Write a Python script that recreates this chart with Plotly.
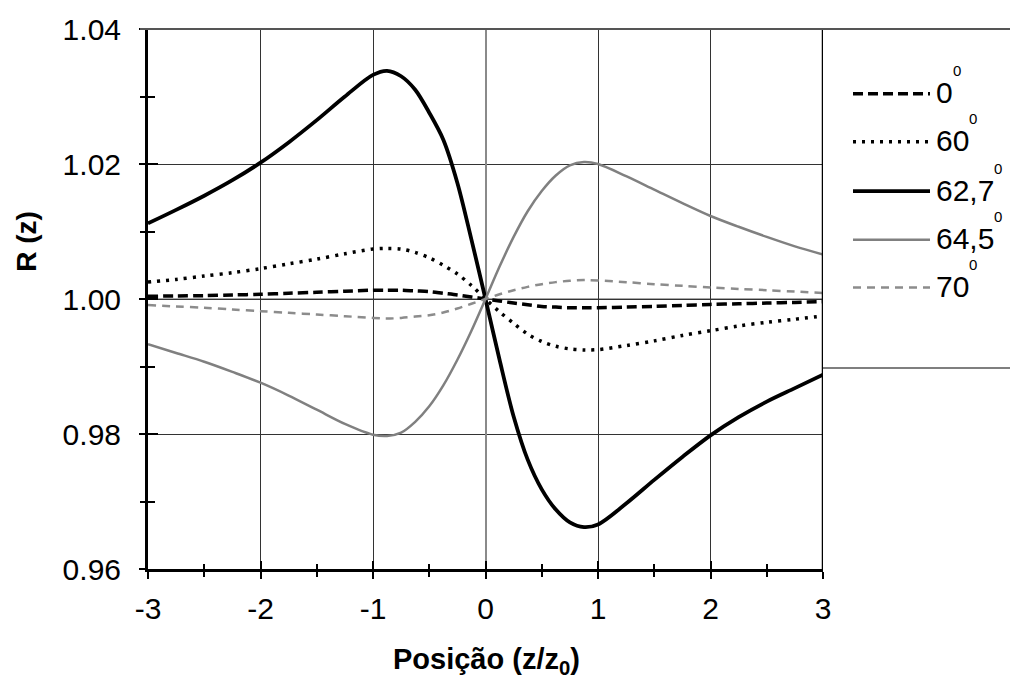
import plotly.graph_objects as go

# ---- data ----
z = [-3, -2.75, -2.5, -2.25, -2, -1.75, -1.5, -1.25, -1,
     -0.875, -0.75, -0.625, -0.5, -0.375, -0.25, -0.125, 0,
     0.125, 0.25, 0.375, 0.5, 0.625, 0.75, 0.875,
     1, 1.25, 1.5, 1.75, 2, 2.25, 2.5, 2.75, 3]

r_0 = [1.0004, 1.00045, 1.0005, 1.0006, 1.0007, 1.00085, 1.0010, 1.00115, 1.0013,
       1.0013, 1.0013, 1.0012, 1.0011, 1.00085, 1.0006, 1.0003, 1.0,
       0.9997, 0.9994, 0.99915, 0.9989, 0.9988, 0.9987, 0.9987,
       0.9987, 0.9988, 0.9989, 0.99905, 0.9992, 0.9993, 0.9994, 0.9995, 0.9996]
r_60 = [1.0025, 1.0029, 1.0034, 1.0039, 1.0045, 1.0052, 1.0059, 1.0067, 1.0074,
        1.0075, 1.0074, 1.0069, 1.0061, 1.0050, 1.0037, 1.0020, 1.0,
        0.9981, 0.9964, 0.9948, 0.9937, 0.9930, 0.9926, 0.99245,
        0.9925, 0.9931, 0.9938, 0.9946, 0.9953, 0.9960, 0.99655, 0.9970, 0.9975]
r_627 = [1.0112, 1.0132, 1.0153, 1.0176, 1.0202, 1.0232, 1.0265, 1.0300, 1.0332,
         1.0338, 1.0330, 1.0310, 1.0276, 1.0236, 1.0172, 1.0088, 1.0,
         0.9910, 0.9826, 0.9762, 0.9718, 0.9688, 0.9669, 0.9662,
         0.9666, 0.9697, 0.9732, 0.9766, 0.9798, 0.9825, 0.9848, 0.9868, 0.9888]
r_645 = [0.9933, 0.9920, 0.9907, 0.9892, 0.9876, 0.9857, 0.9836, 0.9815, 0.9799,
         0.9797, 0.9802, 0.9818, 0.9841, 0.9872, 0.9910, 0.9953, 1.0,
         1.0048, 1.0092, 1.0130, 1.0160, 1.0183, 1.0198, 1.0203,
         1.0200, 1.0182, 1.0162, 1.0142, 1.0123, 1.0107, 1.0092, 1.0078, 1.0066]
r_70 = [0.9991, 0.9989, 0.9987, 0.99845, 0.9982, 0.99795, 0.9977, 0.99745, 0.9972,
        0.9971, 0.9972, 0.9974, 0.9976, 0.9980, 0.9986, 0.9993, 1.0,
        1.0007, 1.0013, 1.0018, 1.0022, 1.0025, 1.0027, 1.0028,
        1.00275, 1.0025, 1.0022, 1.00195, 1.0017, 1.0015, 1.0013, 1.0011, 1.0009]

series_names = ["0", "60", "62,7", "64,5", "70"]
series_values = [r_0, r_60, r_627, r_645, r_70]

x_ticks = [-3, -2, -1, 0, 1, 2, 3]
x_tick_text = ["-3", "-2", "-1", "0", "1", "2", "3"]
y_ticks = [0.96, 0.98, 1.00, 1.02, 1.04]
y_tick_text = ["0.96", "0.98", "1.00", "1.02", "1.04"]

# ---- styles ----
styles = [
    dict(color="#000000", width=3.5, dash="10px,5px"),
    dict(color="#000000", width=3.5, dash="3px,6px"),
    dict(color="#000000", width=3.8, dash="solid"),
    dict(color="#808080", width=2.5, dash="solid"),
    dict(color="#8c8c8c", width=2.5, dash="8px,6px"),
]
sup_x = [957, 973, 998, 998, 973]   # legend degree-sign positions (px)

W, H = 1010, 684
ML, MR, MT, MB = 148, 187, 26, 115
PW, PH = W - ML - MR, H - MT - MB


def px_x(p):
    return (p - ML) / PW


def px_y(p):
    return (H - MB - p) / PH


FONT = "Liberation Sans, Arial, sans-serif"

fig = go.Figure()
for name, vals, st in zip(series_names, series_values, styles):
    fig.add_trace(go.Scatter(
        x=z, y=vals, mode="lines", name=name,
        line=dict(color=st["color"], width=st["width"], dash=st["dash"],
                  shape="spline", smoothing=0.9),
        showlegend=False,
    ))
# invisible trace to hold the overlay axes (inner half of crossing ticks)
fig.add_trace(go.Scatter(x=[0], y=[1.0], xaxis="x2", yaxis="y2", mode="lines",
                         showlegend=False, hoverinfo="skip", opacity=0))

tick_font = dict(family=FONT, size=30, color="#000")

fig.update_layout(
    width=W, height=H,
    margin=dict(l=ML, r=MR, t=MT, b=MB),
    paper_bgcolor="white", plot_bgcolor="white",
    xaxis=dict(
        range=[-3, 3], tickvals=x_ticks, ticktext=x_tick_text, ticks="outside", ticklen=7,
        tickwidth=1.5, tickcolor="#000",
        showline=True, linecolor="#000", linewidth=3,
        showgrid=True, gridcolor="#333", gridwidth=1,
        zeroline=True, zerolinecolor="#8a8a8a", zerolinewidth=1.5,
        tickfont=tick_font, ticklabelstandoff=4,
        minor=dict(dtick=0.5, tick0=-3, ticks="outside", ticklen=5,
                   tickwidth=1.5, tickcolor="#000", showgrid=False),
    ),
    yaxis=dict(
        range=[0.96, 1.04], tickvals=y_ticks, ticktext=y_tick_text,
        ticks="outside", ticklen=6, tickwidth=1.5, tickcolor="#000",
        showline=True, linecolor="#000", linewidth=3,
        showgrid=True, gridcolor="#333", gridwidth=1,
        zeroline=False,
        tickfont=tick_font, ticklabelstandoff=12,
        minor=dict(dtick=0.01, tick0=0.96, ticks="outside", ticklen=5,
                   tickwidth=1.5, tickcolor="#000", showgrid=False),
    ),
    xaxis2=dict(
        range=[-3, 3], overlaying="x", anchor="y2", side="bottom",
        tickvals=x_ticks, ticks="inside", ticklen=8, tickwidth=1.5,
        tickcolor="#000", showticklabels=False, showgrid=False,
        zeroline=False, showline=False,
        minor=dict(dtick=0.5, tick0=-3, ticks="inside", ticklen=5,
                   tickwidth=1.5, tickcolor="#000", showgrid=False),
    ),
    yaxis2=dict(
        range=[0.96, 1.04], overlaying="y", anchor="x2", side="left",
        tickvals=y_ticks, ticks="inside", ticklen=10, tickwidth=1.5,
        tickcolor="#000", showticklabels=False, showgrid=False,
        zeroline=False, showline=False,
        minor=dict(dtick=0.01, tick0=0.96, ticks="inside", ticklen=7,
                   tickwidth=1.5, tickcolor="#000", showgrid=False),
    ),
)

shapes = []
# gray reference line at R = 1.00
shapes.append(dict(type="line", xref="paper", yref="y", x0=0, x1=1, y0=1.0, y1=1.0,
                   line=dict(color="#8a8a8a", width=1.5), layer="between"))
# right border of plot at z = 3
shapes.append(dict(type="line", xref="x", yref="paper", x0=3, x1=3, y0=0, y1=1,
                   line=dict(color="#000", width=2.5)))
# top frame line extending to the right edge
shapes.append(dict(type="line", xref="paper", yref="paper", x0=px_x(140), x1=px_x(W),
                   y0=1, y1=1, line=dict(color="#555", width=2)))
# legend box bottom line
shapes.append(dict(type="line", xref="paper", yref="paper", x0=1, x1=px_x(W),
                   y0=px_y(367), y1=px_y(367), line=dict(color="#555", width=1.5)))

annotations = []
row_y = [91, 139.5, 189, 238, 286]
for name, st, ry, sx in zip(series_names, styles, row_y, sup_x):
    shapes.append(dict(type="line", xref="paper", yref="paper",
                       x0=px_x(853), x1=px_x(930), y0=px_y(ry), y1=px_y(ry),
                       line=dict(color=st["color"], width=st["width"], dash=st["dash"])))
    annotations.append(dict(xref="paper", yref="paper", x=px_x(934), y=px_y(ry - 1),
                            text=name, showarrow=False, xanchor="left", yanchor="middle",
                            font=dict(family=FONT, size=30, color="#000")))
    # degree superscript
    annotations.append(dict(xref="paper", yref="paper", x=px_x(sx), y=px_y(ry - 23),
                            text="0", showarrow=False, xanchor="center", yanchor="middle",
                            font=dict(family=FONT, size=15, color="#000")))

# axis titles
annotations.append(dict(xref="paper", yref="paper", x=px_x(27), y=px_y(240),
                        text="<b>R (z)</b>", textangle=-90, showarrow=False,
                        xanchor="center", yanchor="middle",
                        font=dict(family=FONT, size=28, color="#000")))
annotations.append(dict(xref="paper", yref="paper", x=px_x(486), y=px_y(662),
                        text="<b>Posição (z/z<sub>0</sub>)</b>", showarrow=False,
                        xanchor="center", yanchor="middle",
                        font=dict(family=FONT, size=29, color="#000")))

fig.update_layout(shapes=shapes, annotations=annotations)

fig.write_html("out.html")
